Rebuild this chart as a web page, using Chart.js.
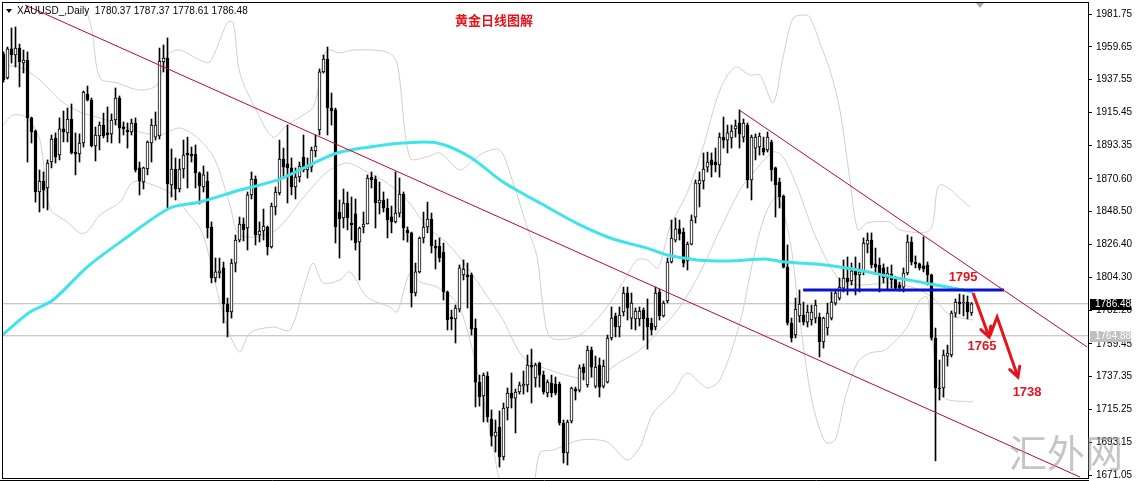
<!DOCTYPE html>
<html>
<head>
<meta charset="utf-8">
<script src="https://cdn.jsdelivr.net/npm/chart.js@4.4.1/dist/chart.umd.min.js"></script>
<style>
  html, body { margin: 0; padding: 0; background: #fff; }
  #wrap { width: 1136px; height: 481px; }
</style>
</head>
<body>
<div id="wrap"><canvas id="chart" width="1136" height="481"></canvas></div>
<script>
// Daily candles, oldest first
const open = [
  1954.8, 1938.6, 1958.2, 1954.1, 1958.8, 1948.7, 1950.7, 1911.7, 1902.9, 1861.8,
  1869.2, 1864.5, 1882.0, 1898.2, 1886.7, 1904.3, 1901.6, 1911.0, 1888.7, 1887.4,
  1894.8, 1927.8, 1923.8, 1892.8, 1899.5, 1906.9, 1901.6, 1900.9, 1910.3, 1925.1,
  1905.6, 1903.6, 1902.2, 1908.3, 1878.0, 1868.5, 1877.3, 1894.8, 1898.8, 1899.5,
  1949.4, 1952.1, 1866.5, 1877.3, 1863.8, 1877.3, 1888.1, 1887.4, 1887.4, 1874.6,
  1865.2, 1869.2, 1838.2, 1803.8, 1807.2, 1810.6, 1786.3, 1780.9, 1813.9, 1829.4,
  1840.2, 1837.5, 1859.8, 1870.5, 1832.8, 1835.5, 1838.2, 1824.7, 1851.7, 1861.1,
  1884.0, 1880.7, 1878.0, 1865.2, 1871.9, 1885.4, 1876.6, 1878.6, 1889.4, 1903.6,
  1942.7, 1951.4, 1918.4, 1917.1, 1848.3, 1844.3, 1854.4, 1840.9, 1847.0, 1828.1,
  1838.2, 1840.2, 1871.9, 1870.5, 1854.4, 1856.4, 1851.0, 1845.0, 1841.6, 1847.6,
  1860.4, 1836.2, 1834.2, 1793.7, 1807.9, 1830.8, 1838.2, 1843.6, 1825.4, 1825.4,
  1821.3, 1794.4, 1777.5, 1776.2, 1782.9, 1805.9, 1805.9, 1805.9, 1770.1, 1733.7,
  1724.3, 1737.8, 1708.8, 1697.3, 1703.4, 1683.2, 1716.2, 1726.3, 1722.9, 1727.0,
  1731.0, 1731.7, 1745.2, 1736.4, 1746.5, 1738.4, 1726.3, 1733.0, 1732.4, 1732.4,
  1706.1, 1685.9, 1707.4, 1729.0, 1728.3, 1743.8, 1731.7, 1755.3, 1731.0, 1745.2,
  1731.0, 1733.7, 1763.4, 1778.2, 1770.8, 1780.9, 1793.7, 1776.8, 1776.2, 1776.2,
  1782.2, 1776.8, 1773.5, 1770.8, 1794.4, 1778.2, 1788.3, 1814.6, 1829.4, 1836.9,
  1834.8, 1815.3, 1826.7, 1844.9, 1867.2, 1869.2, 1878.6, 1883.4, 1882.0, 1880.0,
  1898.8, 1896.8, 1898.2, 1904.3, 1908.3, 1898.8, 1906.9, 1869.9, 1891.4, 1892.1,
  1891.4, 1890.1, 1895.5, 1878.0, 1868.5, 1859.1, 1811.2, 1773.5, 1765.4, 1778.2,
  1778.9, 1774.1, 1775.5, 1776.8, 1777.5, 1760.7, 1770.1, 1776.8, 1786.9, 1790.3,
  1797.0, 1803.8, 1801.8, 1808.6, 1805.9, 1807.9, 1826.7, 1829.4, 1813.3, 1812.6,
  1810.6, 1803.8, 1806.5, 1803.8, 1799.1, 1797.7, 1807.2, 1828.1, 1814.6, 1813.3,
  1812.0, 1812.6, 1805.9, 1763.4, 1729.7, 1729.7, 1751.2, 1751.9, 1780.2, 1787.6,
  1787.0, 1787.6, 1780.37
];
const high = [
  1956.2, 1959.5, 1972.3, 1973.0, 1961.5, 1957.5, 1956.2, 1912.3, 1903.6, 1876.6,
  1875.3, 1883.4, 1900.2, 1901.6, 1911.7, 1916.4, 1918.4, 1921.1, 1901.6, 1900.9,
  1929.9, 1933.2, 1925.1, 1905.6, 1909.0, 1915.0, 1919.1, 1914.4, 1931.9, 1926.5,
  1909.0, 1908.3, 1911.0, 1911.7, 1882.0, 1878.6, 1896.2, 1911.0, 1915.7, 1958.8,
  1960.9, 1965.6, 1890.8, 1884.7, 1884.0, 1896.8, 1898.8, 1892.1, 1893.5, 1875.3,
  1879.3, 1875.3, 1841.6, 1817.3, 1817.3, 1814.6, 1790.3, 1816.6, 1832.8, 1844.9,
  1844.3, 1861.8, 1875.3, 1872.6, 1841.6, 1850.3, 1838.9, 1854.4, 1865.2, 1896.8,
  1891.4, 1906.9, 1884.7, 1878.0, 1882.0, 1900.2, 1884.7, 1892.1, 1900.2, 1944.7,
  1954.1, 1959.5, 1928.5, 1918.4, 1856.4, 1863.8, 1861.8, 1858.4, 1857.1, 1838.2,
  1848.3, 1873.3, 1875.3, 1872.6, 1868.5, 1861.8, 1857.1, 1852.3, 1875.3, 1871.2,
  1861.8, 1838.2, 1834.8, 1813.9, 1831.5, 1848.3, 1855.0, 1847.6, 1829.4, 1830.8,
  1827.4, 1795.1, 1782.2, 1785.6, 1812.6, 1816.0, 1813.9, 1807.2, 1776.2, 1738.4,
  1739.8, 1740.5, 1714.9, 1708.1, 1714.2, 1719.6, 1729.7, 1739.8, 1729.0, 1733.7,
  1741.1, 1751.9, 1755.9, 1746.5, 1747.2, 1741.1, 1735.1, 1738.4, 1737.1, 1733.7,
  1708.1, 1708.1, 1730.3, 1730.3, 1745.2, 1745.9, 1758.0, 1757.3, 1751.2, 1749.9,
  1748.5, 1765.4, 1784.3, 1780.2, 1784.3, 1797.7, 1797.7, 1793.7, 1783.6, 1784.3,
  1783.6, 1789.7, 1776.8, 1797.7, 1796.4, 1788.3, 1817.3, 1842.9, 1844.3, 1842.9,
  1837.5, 1828.1, 1846.3, 1869.9, 1875.3, 1888.1, 1888.7, 1888.1, 1891.4, 1901.6,
  1912.3, 1906.9, 1906.9, 1910.3, 1917.1, 1911.0, 1908.3, 1900.2, 1900.9, 1901.6,
  1898.8, 1902.2, 1896.8, 1878.6, 1871.2, 1859.8, 1826.1, 1776.8, 1790.3, 1795.7,
  1787.6, 1785.6, 1785.6, 1789.0, 1780.2, 1777.5, 1786.9, 1794.4, 1795.7, 1803.8,
  1816.0, 1818.0, 1813.9, 1818.0, 1813.9, 1830.8, 1834.2, 1834.2, 1824.0, 1817.3,
  1813.3, 1811.2, 1812.6, 1804.5, 1801.1, 1810.6, 1832.8, 1831.5, 1818.7, 1813.9,
  1831.5, 1814.6, 1806.5, 1770.1, 1748.5, 1755.3, 1758.6, 1781.6, 1789.7, 1793.0,
  1792.4, 1791.7, 1787.37
];
const low = [
  1935.9, 1937.9, 1948.7, 1946.0, 1932.6, 1942.0, 1882.0, 1894.8, 1855.0, 1848.3,
  1851.0, 1849.7, 1878.0, 1881.3, 1883.4, 1895.5, 1895.5, 1887.4, 1873.3, 1882.0,
  1892.1, 1923.1, 1892.1, 1882.7, 1890.1, 1898.2, 1895.5, 1894.8, 1906.9, 1894.8,
  1900.2, 1891.4, 1900.2, 1875.3, 1859.8, 1863.8, 1873.3, 1882.0, 1896.8, 1897.5,
  1942.7, 1851.0, 1858.4, 1856.4, 1861.8, 1871.2, 1864.5, 1882.0, 1864.5, 1853.7,
  1861.8, 1830.8, 1800.5, 1801.1, 1803.8, 1773.5, 1764.1, 1776.8, 1807.9, 1828.1,
  1828.8, 1822.7, 1857.1, 1826.1, 1828.1, 1829.4, 1819.3, 1824.0, 1846.3, 1859.8,
  1871.9, 1854.4, 1859.8, 1857.1, 1868.5, 1875.3, 1871.2, 1875.3, 1885.4, 1900.2,
  1942.0, 1900.2, 1906.9, 1827.4, 1817.3, 1837.5, 1836.2, 1829.4, 1822.7, 1802.5,
  1834.2, 1840.2, 1864.5, 1837.5, 1847.0, 1848.3, 1830.8, 1834.2, 1840.9, 1844.9,
  1829.4, 1828.1, 1784.3, 1791.7, 1807.2, 1827.4, 1834.2, 1820.7, 1809.9, 1814.6,
  1789.0, 1768.8, 1768.8, 1760.0, 1780.9, 1802.5, 1783.6, 1765.4, 1716.9, 1717.5,
  1706.8, 1706.8, 1690.6, 1686.5, 1676.4, 1681.2, 1708.1, 1716.2, 1699.4, 1725.6,
  1725.6, 1727.0, 1719.6, 1730.3, 1730.3, 1725.6, 1723.6, 1723.6, 1725.0, 1704.7,
  1679.1, 1677.8, 1706.1, 1721.6, 1727.0, 1735.1, 1730.3, 1737.1, 1729.7, 1723.6,
  1729.7, 1733.0, 1762.0, 1764.1, 1764.1, 1778.2, 1775.5, 1769.4, 1768.8, 1771.5,
  1762.0, 1755.9, 1765.4, 1768.8, 1775.5, 1777.5, 1787.0, 1813.9, 1828.1, 1829.4,
  1811.2, 1809.2, 1826.1, 1840.9, 1851.7, 1863.8, 1875.3, 1871.9, 1875.3, 1871.9,
  1891.4, 1888.1, 1891.4, 1898.8, 1891.4, 1895.5, 1864.5, 1856.4, 1883.4, 1886.7,
  1886.7, 1888.7, 1869.2, 1844.9, 1851.0, 1810.6, 1772.1, 1760.7, 1763.4, 1774.1,
  1772.1, 1770.8, 1772.1, 1773.5, 1750.6, 1756.6, 1765.4, 1775.5, 1785.6, 1789.0,
  1794.4, 1792.4, 1799.1, 1792.4, 1794.4, 1805.9, 1820.7, 1810.6, 1807.2, 1794.4,
  1800.5, 1795.7, 1797.0, 1795.7, 1795.0, 1794.4, 1805.9, 1812.6, 1810.6, 1809.2,
  1807.9, 1799.1, 1762.0, 1680.6, 1721.6, 1723.6, 1744.5, 1750.6, 1777.5, 1779.6,
  1778.2, 1776.2, 1778.61
];
const close = [
  1937.3, 1958.2, 1954.1, 1958.8, 1949.4, 1950.7, 1911.7, 1902.2, 1861.8, 1869.2,
  1863.1, 1881.3, 1897.5, 1885.4, 1904.3, 1902.2, 1911.0, 1888.1, 1887.4, 1894.8,
  1929.2, 1923.8, 1892.8, 1900.2, 1906.9, 1899.5, 1900.2, 1910.3, 1925.1, 1905.0,
  1904.3, 1902.2, 1908.3, 1876.6, 1869.2, 1878.0, 1895.5, 1906.9, 1906.9, 1950.1,
  1952.1, 1867.2, 1877.3, 1863.8, 1877.3, 1886.7, 1886.7, 1886.1, 1874.6, 1865.8,
  1873.3, 1837.5, 1803.8, 1807.9, 1808.6, 1786.3, 1780.9, 1813.9, 1829.4, 1840.2,
  1836.2, 1859.8, 1870.5, 1832.8, 1835.5, 1838.9, 1824.7, 1852.3, 1861.8, 1884.0,
  1878.6, 1878.0, 1865.2, 1871.9, 1879.3, 1876.6, 1878.6, 1890.1, 1892.8, 1942.7,
  1951.4, 1918.4, 1916.4, 1838.2, 1843.6, 1854.4, 1844.3, 1839.6, 1827.4, 1837.5,
  1840.2, 1871.2, 1869.9, 1854.4, 1856.4, 1851.0, 1842.9, 1841.6, 1847.6, 1860.4,
  1837.5, 1834.2, 1793.7, 1807.9, 1830.8, 1838.2, 1843.6, 1825.4, 1824.0, 1817.3,
  1794.4, 1775.5, 1776.2, 1783.6, 1810.6, 1809.9, 1804.5, 1769.4, 1733.7, 1723.6,
  1738.4, 1710.2, 1697.3, 1700.0, 1683.2, 1716.2, 1726.3, 1722.9, 1727.0, 1731.7,
  1732.4, 1745.2, 1743.8, 1745.2, 1738.4, 1727.0, 1733.7, 1726.3, 1726.3, 1706.1,
  1685.9, 1706.8, 1729.7, 1727.6, 1743.2, 1739.8, 1755.3, 1743.8, 1743.8, 1730.3,
  1744.5, 1763.4, 1776.8, 1770.8, 1778.9, 1793.7, 1783.6, 1787.0, 1781.6, 1781.6,
  1776.2, 1770.8, 1768.8, 1793.7, 1778.2, 1787.0, 1814.6, 1830.8, 1836.9, 1833.5,
  1813.9, 1826.7, 1842.9, 1867.9, 1869.9, 1877.3, 1882.0, 1880.0, 1880.0, 1898.8,
  1896.8, 1901.6, 1902.9, 1906.3, 1900.9, 1908.3, 1869.9, 1898.8, 1898.8, 1899.5,
  1888.7, 1898.8, 1876.6, 1866.5, 1858.4, 1811.2, 1773.5, 1763.4, 1782.9, 1786.3,
  1774.1, 1780.9, 1780.9, 1785.6, 1760.7, 1776.8, 1780.2, 1787.6, 1793.7, 1797.7,
  1803.8, 1801.1, 1808.6, 1805.9, 1807.9, 1827.4, 1829.4, 1812.6, 1811.2, 1805.9,
  1803.8, 1807.2, 1802.5, 1797.0, 1797.0, 1807.2, 1828.1, 1814.6, 1813.3, 1810.6,
  1809.9, 1805.9, 1763.4, 1729.7, 1729.0, 1751.9, 1753.3, 1780.2, 1787.6, 1786.3,
  1787.6, 1780.9, 1786.48
];

// price axis labels (right side)
const yTickLabels = [1981.75, 1959.65, 1937.55, 1915.45, 1893.35, 1870.60, 1848.50,
  1826.40, 1804.30, 1782.20, 1759.45, 1737.35, 1715.25, 1693.15, 1671.05];

// cyan moving average, read at bar positions
const maIdx = [-0.3, 6.6, 12.4, 20.9, 29.9, 41.6, 49.1, 59.1, 68.6, 76.6, 83.4, 91.6, 99.9, 108.4,
  116.6, 124.9, 135.9, 144.1, 152.4, 160.9, 165.9, 173.4, 181.6, 190.4, 195.4, 205.4, 213.6,
  222.1, 230.4, 238.6, 242.4];
const maVal = [1765.4, 1780.9, 1789.0, 1811.2, 1829.4, 1851.0, 1855.0, 1863.1, 1869.9, 1880.0,
  1888.1, 1892.1, 1894.8, 1894.8, 1885.4, 1868.5, 1851.7, 1839.6, 1830.1, 1824.0, 1819.3,
  1816.0, 1815.3, 1816.6, 1814.6, 1812.6, 1809.2, 1804.5, 1800.5, 1796.4, 1794.4];

// light grey bands
const upIdx = [20.4, 22.1, 24.1, 28.4, 34.1, 38.4, 40.9, 44.1, 49.1, 51.6, 55.9, 57.4, 59.1, 63.4,
  67.4, 70.9, 74.1, 77.4, 79.6, 80.9, 84.1, 87.4, 95.9, 98.4, 101.6, 105.9, 109.1, 114.1, 117.4,
  120.4, 124.1, 127.4, 130.9, 133.4, 134.9, 136.6, 140.9, 144.9, 150.9, 154.9, 158.4, 160.9,
  163.6, 166.6, 170.9, 174.9, 179.1, 182.9, 186.6, 189.1, 192.4, 194.9, 197.4, 199.9, 201.6,
  204.1, 206.6, 209.1, 211.6, 213.6, 215.9, 221.6, 224.1, 231.6, 234.1, 241.6];
const upVal = [1987.1, 1971.0, 1938.6, 1935.3, 1930.5, 1933.9, 1954.1, 1957.5, 1950.7, 1949.4,
  1975.7, 1976.4, 1942.0, 1915.7, 1898.8, 1906.9, 1912.3, 1919.1, 1944.0, 1957.5, 1955.5,
  1957.5, 1956.1, 1948.7, 1884.7, 1885.4, 1888.1, 1876.6, 1883.4, 1888.7, 1890.1, 1867.9,
  1838.2, 1818.0, 1784.3, 1764.1, 1762.7, 1766.8, 1784.3, 1801.1, 1816.0, 1816.0, 1810.6,
  1838.2, 1861.1, 1892.1, 1930.5, 1946.0, 1940.6, 1940.6, 1921.8, 1952.8, 1979.0, 1981.1,
  1979.7, 1962.2, 1944.0, 1917.1, 1869.9, 1836.2, 1840.9, 1841.6, 1836.2, 1836.2, 1866.5, 1851.7];
const midIdx = [-0.1, 4.1, 9.1, 14.1, 19.1, 24.1, 29.1, 34.1, 39.1, 44.1, 49.1, 52.9, 56.6, 59.1,
  67.4, 75.9, 80.9, 85.9, 90.9, 95.9, 100.9, 105.9, 110.9, 115.9, 120.4, 124.9, 129.9, 136.6,
  144.1, 149.1, 154.1, 159.1, 164.1, 169.1, 174.1, 179.1, 184.1, 187.4, 192.4, 194.9, 198.4,
  203.4, 209.1, 214.1, 222.4, 229.1, 232.9, 236.6, 242.4];
const midVal = [1946.7, 1946.0, 1937.3, 1923.8, 1915.7, 1911.7, 1906.9, 1902.2, 1900.2, 1904.9,
  1896.8, 1883.4, 1853.0, 1832.8, 1834.8, 1861.1, 1875.3, 1881.3, 1875.3, 1867.9, 1856.4,
  1838.2, 1827.4, 1811.2, 1793.7, 1775.5, 1750.6, 1741.8, 1736.4, 1738.4, 1747.2, 1755.3,
  1768.8, 1784.3, 1807.2, 1836.2, 1863.1, 1874.6, 1888.7, 1885.4, 1865.2, 1829.4, 1802.5,
  1799.1, 1800.5, 1795.7, 1789.0, 1778.9, 1775.5];
const lowIdx = [-0.1, 2.4, 5.9, 9.1, 11.6, 15.9, 19.1, 20.9, 24.1, 29.1, 32.4, 37.4, 42.4, 45.9,
  49.1, 50.9, 54.1, 56.6, 59.1, 61.6, 67.4, 71.6, 74.9, 77.4, 79.9, 84.1, 86.6, 90.9, 96.6,
  98.4, 101.6, 104.1, 108.4, 113.4, 116.6, 119.9, 122.4, 125.4, 131.6, 134.1, 137.4, 144.1,
  150.9, 155.9, 159.1, 162.4, 167.4, 170.9, 175.9, 179.1, 184.1, 187.4, 190.4, 193.4, 196.6,
  199.1, 202.1, 205.4, 207.9, 210.4, 213.6, 216.6, 220.4, 225.9, 229.1, 230.9, 231.6, 232.9,
  234.9, 242.4];
const lowVal = [1906.9, 1913.7, 1911.7, 1896.8, 1851.0, 1841.6, 1834.2, 1834.8, 1846.3, 1855.0,
  1868.5, 1866.5, 1859.8, 1848.3, 1837.5, 1824.0, 1787.6, 1765.4, 1754.0, 1766.8, 1770.8,
  1768.8, 1795.7, 1813.9, 1800.5, 1802.5, 1807.9, 1791.0, 1784.3, 1780.9, 1807.2, 1801.1,
  1797.7, 1787.0, 1762.0, 1723.6, 1689.9, 1657.6, 1655.6, 1685.9, 1687.9, 1694.6, 1693.3,
  1681.2, 1689.9, 1712.8, 1726.3, 1739.8, 1729.7, 1735.1, 1773.5, 1816.0, 1846.3, 1858.4,
  1829.4, 1775.5, 1721.6, 1693.3, 1694.6, 1722.9, 1747.2, 1753.3, 1755.3, 1770.8, 1789.0,
  1791.0, 1777.5, 1748.5, 1723.6, 1720.2];

// drawn objects
const trendA = [[5.4, 1987.8], [269.1, 1669.7]];
const trendB = [[183.9, 1917.1], [270.9, 1757.3]];
const blueLevel = [[199.9, 1795.7], [250.1, 1795.7]];
const arrowOne = [[242.4, 1793.7], [246.4, 1764.1]];
const arrowTwo = [[246.6, 1764.8], [248.4, 1777.5], [253.6, 1737.1]];
const noteText = ['1795', '1765', '1738'];
const noteIdx = [239.9, 244.6, 255.9];
const noteVal = [1804.5, 1758.0, 1727.0];
const bidAsk = [1786.48, 1764.88];
const shiftIdx = 244.1;

const idx = open.map((_, i) => i);
const pts = arr => arr.map(p => ({ x: p[0], y: p[1] }));
const zipXY = (xs, ys) => xs.map((v, i) => ({ x: v, y: ys[i] }));

const bodyFill = idx.map(i => close[i] >= open[i] ? '#ffffff' : '#000000');

const RED = '#e3141c';

const decor = {
  id: 'decor',
  beforeDraw(chart) {
    const ctx = chart.ctx;
    ctx.save();
    ctx.fillStyle = '#ffffff';
    ctx.fillRect(0, 0, chart.width, chart.height);
    ctx.restore();
  },
  afterDraw(chart) {
    const { ctx, chartArea: a, scales: { x, y } } = chart;
    ctx.save();

    // frame
    ctx.strokeStyle = '#000';
    ctx.lineWidth = 1;
    ctx.strokeRect(a.left + 0.5, a.top + 0.5, a.right - a.left, a.bottom - a.top);
    ctx.beginPath();
    ctx.moveTo(0, a.bottom + 2.5);
    ctx.lineTo(a.right + 1, a.bottom + 2.5);
    ctx.stroke();

    // header
    ctx.fillStyle = '#000';
    ctx.beginPath();
    ctx.moveTo(6, 9); ctx.lineTo(12, 9); ctx.lineTo(9, 13); ctx.closePath();
    ctx.fill();
    ctx.font = '10px "Liberation Sans", Arial, sans-serif';
    ctx.textBaseline = 'middle';
    ctx.textAlign = 'left';
    ctx.fillText('XAUUSD_,Daily  1780.37 1787.37 1778.61 1786.48', 17, 11);

    // title
    ctx.fillStyle = RED;
    ctx.font = 'bold 13px "Noto Sans CJK SC", sans-serif';
    ctx.textAlign = 'center';
    ctx.fillText('黄金日线图解', 494, 20);

    // arrow heads
    ctx.strokeStyle = RED;
    ctx.lineWidth = 3;
    ctx.lineCap = 'round';
    [arrowOne, arrowTwo].forEach(arr => {
      const p1 = arr[arr.length - 2], p2 = arr[arr.length - 1];
      const x1 = x.getPixelForValue(p1[0]), y1 = y.getPixelForValue(p1[1]);
      const x2 = x.getPixelForValue(p2[0]), y2 = y.getPixelForValue(p2[1]);
      const ang = Math.atan2(y2 - y1, x2 - x1);
      const len = 11, spread = 0.5;
      ctx.beginPath();
      ctx.moveTo(x2 - len * Math.cos(ang - spread), y2 - len * Math.sin(ang - spread));
      ctx.lineTo(x2, y2);
      ctx.lineTo(x2 - len * Math.cos(ang + spread), y2 - len * Math.sin(ang + spread));
      ctx.stroke();
    });

    // level notes
    ctx.font = 'bold 13px "Liberation Sans", Arial, sans-serif';
    ctx.fillStyle = RED;
    noteText.forEach((t, k) => {
      ctx.fillText(t, x.getPixelForValue(noteIdx[k]), y.getPixelForValue(noteVal[k]));
    });

    // price boxes on the axis
    ctx.font = '10px "Liberation Sans", Arial, sans-serif';
    ctx.textAlign = 'left';
    bidAsk.forEach((v, k) => {
      const py = Math.round(y.getPixelForValue(v));
      ctx.fillStyle = k === 0 ? '#000000' : '#c0c0c0';
      ctx.fillRect(a.right + 2, py - 5, 41, 11);
      ctx.fillStyle = '#ffffff';
      ctx.fillText(v.toFixed(2), a.right + 7, py + 0.5);
    });

    // chart shift marker
    const sx = x.getPixelForValue(shiftIdx);
    ctx.fillStyle = '#a8a8a8';
    ctx.beginPath();
    ctx.moveTo(sx - 4, a.top + 1); ctx.lineTo(sx + 4, a.top + 1); ctx.lineTo(sx, a.top + 6); ctx.closePath();
    ctx.fill();

    // watermark
    ctx.fillStyle = 'rgba(150,150,150,0.55)';
    ctx.font = '38px "Noto Sans CJK SC", sans-serif';
    ctx.textAlign = 'center';
    ctx.fillText('汇外网', 1066, 453);

    ctx.restore();
  }
};

const lineDs = (data, color, width, order, tension) => ({
  type: 'line', data, borderColor: color, borderWidth: width, pointRadius: 0,
  tension: tension || 0, order, fill: false
});

new Chart(document.getElementById('chart'), {
  type: 'bar',
  data: {
    datasets: [
      lineDs(bidAsk.map(v => [{ x: -1, y: v }, { x: 272, y: v }])[0], '#b8b8b8', 1, 9),
      lineDs(bidAsk.map(v => [{ x: -1, y: v }, { x: 272, y: v }])[1], '#b8b8b8', 1, 9),
      lineDs(zipXY(upIdx, upVal), '#d0d0d0', 1, 8, 0.3),
      lineDs(zipXY(midIdx, midVal), '#d0d0d0', 1, 8, 0.3),
      lineDs(zipXY(lowIdx, lowVal), '#d0d0d0', 1, 8, 0.3),
      {
        type: 'bar', order: 4, grouped: false,
        data: idx.map(i => ({ x: i, y: [low[i], high[i]] })),
        backgroundColor: '#000', barThickness: 1, borderWidth: 0, minBarLength: 1
      },
      {
        type: 'bar', order: 3, grouped: false,
        data: idx.map(i => ({ x: i, y: [open[i], close[i]] })),
        backgroundColor: bodyFill, borderColor: '#000', borderWidth: 1,
        borderSkipped: false, barThickness: 3, minBarLength: 1
      },
      lineDs(zipXY(maIdx, maVal), '#3fe3ea', 3, 2, 0.3),
      lineDs(pts(trendA), '#c0082a', 1, 1),
      lineDs(pts(trendB), '#c0082a', 1, 1),
      lineDs(pts(blueLevel), '#0a14cc', 3, 1),
      lineDs(pts(arrowOne), RED, 3, 0),
      lineDs(pts(arrowTwo), RED, 3, 0)
    ]
  },
  options: {
    responsive: false,
    devicePixelRatio: 1,
    animation: false,
    events: [],
    layout: { padding: { left: 2, top: 2, right: 0, bottom: 3 } },
    plugins: { legend: { display: false }, tooltip: { enabled: false } },
    scales: {
      x: {
        type: 'linear', display: false, offset: false, bounds: 'data',
        min: -0.375, max: 271.125
      },
      y: {
        type: 'linear', position: 'right', bounds: 'data',
        min: 1669.03, max: 1989.84,
        afterBuildTicks: axis => { axis.ticks = yTickLabels.map(v => ({ value: v })); },
        afterFit: axis => { axis.width = 48; axis.paddingTop = 0; axis.paddingBottom = 0; },
        ticks: {
          autoSkip: false, padding: 4, color: '#000',
          font: { family: '"Liberation Sans", Arial, sans-serif', size: 10 },
          callback: v => Number(v).toFixed(2)
        },
        grid: { drawOnChartArea: false, tickLength: 4, tickColor: '#000' },
        border: { display: false }
      }
    }
  },
  plugins: [decor]
});
</script>
</body>
</html>
